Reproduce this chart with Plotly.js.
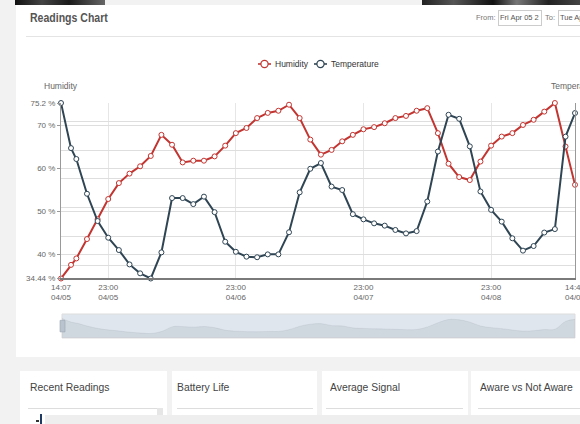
<!DOCTYPE html>
<html>
<head>
<meta charset="utf-8">
<script src="https://cdn.plot.ly/plotly-3.0.1.min.js"></script>
<style>
html,body{margin:0;padding:0;overflow:hidden;}
body{width:580px;height:424px;position:relative;background:#f2f2f2;font-family:"Liberation Sans",Arial,sans-serif;}
.abs{position:absolute;}
.sq{transform-origin:0 0;white-space:nowrap;}
#topL{left:15px;top:0;width:90px;height:5px;background:linear-gradient(90deg,#111,#444 30%,#1a1a1a 60%,#666);}
#topR{left:422px;top:0;width:158px;height:5px;background:linear-gradient(90deg,#222,#555 20%,#111 45%,#777 60%,#222 80%,#444);}
#panel{left:16px;top:5px;width:600px;height:352px;background:#fff;}
#title{left:30px;top:10px;font-size:13px;font-weight:bold;color:#555;transform:scaleX(0.81);}
#divider{left:26px;top:36px;width:560px;height:1px;background:#e4e4e4;}
#fromLbl{left:476px;top:13px;font-size:7.5px;color:#777;white-space:nowrap;}
#fromBox{left:498px;top:10px;width:44px;height:16px;border:1px solid #ccc;box-sizing:border-box;}
#toLbl{left:545px;top:13px;font-size:7.5px;color:#777;white-space:nowrap;}
#toBox{left:558px;top:10px;width:22px;height:16px;border:1px solid #ccc;border-right:none;box-sizing:border-box;}
.boxtxt{top:13px;font-size:7.5px;color:#555;white-space:nowrap;}
#chart{left:0;top:0;z-index:2;}
.card{top:371px;height:60px;background:#fff;}
.ct{top:381px;font-size:11.5px;color:#444;transform:scaleX(0.9);z-index:3;}
.cu{top:408px;height:1px;background:#ddd;z-index:3;}
#scroll{left:157px;top:408px;width:6px;height:8px;background:#e6e6e6;z-index:3;}
#bar{left:45px;top:415px;width:535px;height:9px;background:#eeeeee;z-index:3;}
#blue{left:40px;top:414px;width:2px;height:10px;background:#1f3a63;z-index:3;}
#dot{left:36px;top:420px;width:3px;height:2px;background:#333;z-index:3;}
</style>
</head>
<body>
<div id="topL" class="abs"></div>
<div id="topR" class="abs"></div>
<div id="panel" class="abs"></div>
<div id="title" class="abs sq">Readings Chart</div>
<div id="divider" class="abs"></div>
<div id="fromLbl" class="abs">From:</div>
<div id="fromBox" class="abs"></div>
<div class="boxtxt abs" style="left:500px;">Fri Apr 05 2</div>
<div id="toLbl" class="abs">To:</div>
<div id="toBox" class="abs"></div>
<div class="boxtxt abs" style="left:560px;">Tue Ap</div>

<div class="card abs" style="left:20px;width:147px;"></div>
<div class="card abs" style="left:172px;width:145px;"></div>
<div class="card abs" style="left:322px;width:146px;"></div>
<div class="card abs" style="left:471px;width:109px;"></div>
<div class="ct abs sq" style="left:30px;">Recent Readings</div>
<div class="ct abs sq" style="left:177px;">Battery Life</div>
<div class="ct abs sq" style="left:330px;">Average Signal</div>
<div class="ct abs sq" style="left:480px;">Aware vs Not Aware</div>
<div class="cu abs" style="left:28px;width:134px;"></div>
<div class="cu abs" style="left:177px;width:136px;"></div>
<div class="cu abs" style="left:326px;width:137px;"></div>
<div class="cu abs" style="left:478px;width:102px;"></div>
<div id="scroll" class="abs"></div>
<div id="bar" class="abs"></div>
<div id="blue" class="abs"></div>
<div id="dot" class="abs"></div>

<div id="chart" class="abs"></div>
<script>
// ---- data ----
var times = [
 '2019-04-05 14:07','2019-04-05 16:00','2019-04-05 17:00','2019-04-05 19:00','2019-04-05 21:00','2019-04-05 23:00',
 '2019-04-06 01:00','2019-04-06 03:00','2019-04-06 05:00','2019-04-06 07:00','2019-04-06 09:00','2019-04-06 11:00',
 '2019-04-06 13:00','2019-04-06 15:00','2019-04-06 17:00','2019-04-06 19:00','2019-04-06 21:00','2019-04-06 23:00',
 '2019-04-07 01:00','2019-04-07 03:00','2019-04-07 05:00','2019-04-07 07:00','2019-04-07 09:00','2019-04-07 11:00',
 '2019-04-07 13:00','2019-04-07 15:00','2019-04-07 17:00','2019-04-07 19:00','2019-04-07 21:00','2019-04-07 23:00',
 '2019-04-08 01:00','2019-04-08 03:00','2019-04-08 05:00','2019-04-08 07:00','2019-04-08 09:00','2019-04-08 11:00',
 '2019-04-08 13:00','2019-04-08 15:00','2019-04-08 17:00','2019-04-08 19:00','2019-04-08 21:00','2019-04-08 23:00',
 '2019-04-09 01:00','2019-04-09 03:00','2019-04-09 05:00','2019-04-09 07:00','2019-04-09 09:00','2019-04-09 11:00',
 '2019-04-09 13:00','2019-04-09 14:47'
];
var humidity = [34.44, 37.6, 39.1, 43.6, 48.2, 52.9, 56.6, 58.8, 60.5, 62.9, 67.8, 65.5, 61.4, 61.8, 61.8, 62.8,
 65.3, 68.2, 69.4, 71.7, 72.9, 73.4, 74.8, 71.7, 66.7, 63.2, 64.3, 66.3, 67.8, 69.1, 69.6, 70.5, 71.7, 72.2,
 73.4, 74.0, 68.2, 61.1, 58.0, 57.3, 61.6, 65.3, 67.4, 68.2, 70.1, 71.3, 73.2, 75.2, 65.1, 56.2];
var temperature = [25.64, 24.07, 23.69, 22.48, 21.53, 20.95, 20.52, 20.02, 19.71, 19.53, 20.44, 22.33, 22.33,
 22.12, 22.38, 21.84, 20.81, 20.46, 20.29, 20.27, 20.37, 20.37, 21.14, 22.53, 23.35, 23.55, 22.73, 22.61,
 21.77, 21.59, 21.45, 21.37, 21.22, 21.10, 21.18, 22.21, 23.95, 25.23, 25.09, 24.13, 22.56, 21.92, 21.51,
 20.93, 20.50, 20.66, 21.13, 21.25, 24.47, 25.29];
var xTickVals = ['2019-04-05 14:07','2019-04-05 23:00','2019-04-06 23:00','2019-04-07 23:00','2019-04-08 23:00','2019-04-09 14:47'];
var xTickText = ['14:07<br>04/05','23:00<br>04/05','23:00<br>04/06','23:00<br>04/07','23:00<br>04/08','14:47<br>04/09'];
var humTickVals = [34.44, 40, 50, 60, 70, 75.2];
var humTickText = ['34.44 %', '40 %', '50 %', '60 %', '70 %', '75.2 %'];
var tempTickVals = [20, 21, 22, 23, 24, 25];
var seriesNames = ['Humidity', 'Temperature'];

// ---- chart ----
var FONT = '"Liberation Sans",Arial,sans-serif';
var RED = '#c23531', DARK = '#2f4554';
var hMin = Math.min.apply(null, humidity), hMax = Math.max.apply(null, humidity);
var tMin = Math.min.apply(null, temperature), tMax = Math.max.apply(null, temperature);
var tPad = (tMax - tMin) * 0.3;
var xRange = [times[0], times[times.length - 1]];

var traces = [
 {x: times, y: humidity, name: seriesNames[0], type: 'scatter', mode: 'lines+markers', yaxis: 'y', xaxis: 'x',
  line: {color: RED, width: 2}, marker: {symbol: 'circle', size: 5, color: '#fff', line: {color: RED, width: 1}},
  cliponaxis: false, showlegend: false},
 {x: times, y: temperature, name: seriesNames[1], type: 'scatter', mode: 'lines+markers', yaxis: 'y2', xaxis: 'x',
  line: {color: DARK, width: 2}, marker: {symbol: 'circle', size: 5, color: '#fff', line: {color: DARK, width: 1}},
  cliponaxis: false, showlegend: false},
 {x: times, y: temperature, type: 'scatter', mode: 'lines', xaxis: 'x2', yaxis: 'y3', showlegend: false,
  hoverinfo: 'skip', fill: 'tozeroy', fillcolor: 'rgba(47,69,84,0.09)',
  line: {color: 'rgba(47,69,84,0.15)', width: 0.5, shape: 'spline'}}
];

// custom ECharts-like legend (line + open circle + label)
var PW = 514; // plot width in px (61..575)
function px(p){ return (p - 61) / PW; }
var legY = 1.166;
var legendItems = [
 {color: RED, x0: 258, label: seriesNames[0]},
 {color: DARK, x0: 314, label: seriesNames[1]}
];
var shapes = [
 {type: 'rect', xref: 'x2 domain', yref: 'y3 domain', x0: 0, x1: 1, y0: 0, y1: 1,
  fillcolor: 'rgba(167,183,204,0.35)', line: {color: '#dddddd', width: 1}, layer: 'below'},
 {type: 'rect', xref: 'paper', yref: 'paper', x0: px(60), x1: px(65), y0: 0.026, y1: 0.075,
  fillcolor: '#b9c3cf', line: {color: '#9aa4b0', width: 0.6}}
];
var annotations = [
 {text: 'Humidity', xref: 'paper', yref: 'paper', x: 0, y: 1.072, xanchor: 'center', yanchor: 'middle',
  showarrow: false, font: {family: FONT, size: 8.5, color: '#666'}},
 {text: 'Temperature', xref: 'paper', yref: 'paper', x: 1, y: 1.072, xanchor: 'center', yanchor: 'middle',
  showarrow: false, font: {family: FONT, size: 8.5, color: '#666'}}
];
legendItems.forEach(function(it){
 shapes.push({type: 'line', xref: 'paper', yref: 'paper', x0: px(it.x0), x1: px(it.x0 + 13), y0: legY, y1: legY,
  line: {color: it.color, width: 1.6}});
 shapes.push({type: 'circle', xref: 'paper', yref: 'paper', xsizemode: 'pixel', ysizemode: 'pixel',
  xanchor: px(it.x0 + 6.5), yanchor: legY, x0: -3.6, x1: 3.6, y0: -3.6, y1: 3.6,
  fillcolor: '#fff', line: {color: it.color, width: 1.2}});
 annotations.push({text: it.label, xref: 'paper', yref: 'paper', x: px(it.x0 + 15), y: legY,
  xanchor: 'left', yanchor: 'middle', showarrow: false, font: {family: FONT, size: 8.5, color: '#333'}});
});

var axisFont = {family: FONT, size: 8, color: '#666'};
var layout = {
 width: 640, height: 360, autosize: false,
 margin: {l: 61, r: 65, t: 103, b: 22, pad: 0},
 paper_bgcolor: 'rgba(0,0,0,0)', plot_bgcolor: 'rgba(0,0,0,0)',
 font: {family: FONT, size: 8, color: '#555'},
 showlegend: false,
 xaxis: {type: 'date', range: xRange, domain: [0, 1], anchor: 'y',
  tickmode: 'array', tickvals: xTickVals, ticktext: xTickText, tickfont: axisFont,
  showgrid: true, gridcolor: '#e6e6e6', gridwidth: 1, zeroline: false,
  showline: true, linecolor: '#7a7a7a', linewidth: 1.5, ticks: '', fixedrange: true},
 yaxis: {range: [hMin, hMax], domain: [0.2532, 1], anchor: 'x',
  tickmode: 'array', tickvals: humTickVals, ticktext: humTickText, tickfont: axisFont,
  showgrid: true, gridcolor: '#dedede', zeroline: false,
  showline: true, linecolor: '#999', linewidth: 1, ticks: 'outside', ticklen: 3, tickcolor: '#999', fixedrange: true},
 yaxis2: {range: [tMin, tMax], overlaying: 'y', side: 'right', anchor: 'x',
  tickmode: 'array', tickvals: tempTickVals, showticklabels: false,
  showgrid: true, gridcolor: '#dedede', zeroline: false,
  showline: true, linecolor: '#999', linewidth: 1, ticks: '', fixedrange: true},
 xaxis2: {type: 'date', range: xRange, domain: [px(62), 1], anchor: 'y3', visible: false, fixedrange: true},
 yaxis3: {range: [tMin - tPad, tMax + tPad], domain: [0, 0.1021], anchor: 'x2', visible: false, fixedrange: true},
 shapes: shapes,
 annotations: annotations,
 hovermode: false
};

Plotly.newPlot('chart', traces, layout, {displayModeBar: false, staticPlot: true});
</script>
</body>
</html>
